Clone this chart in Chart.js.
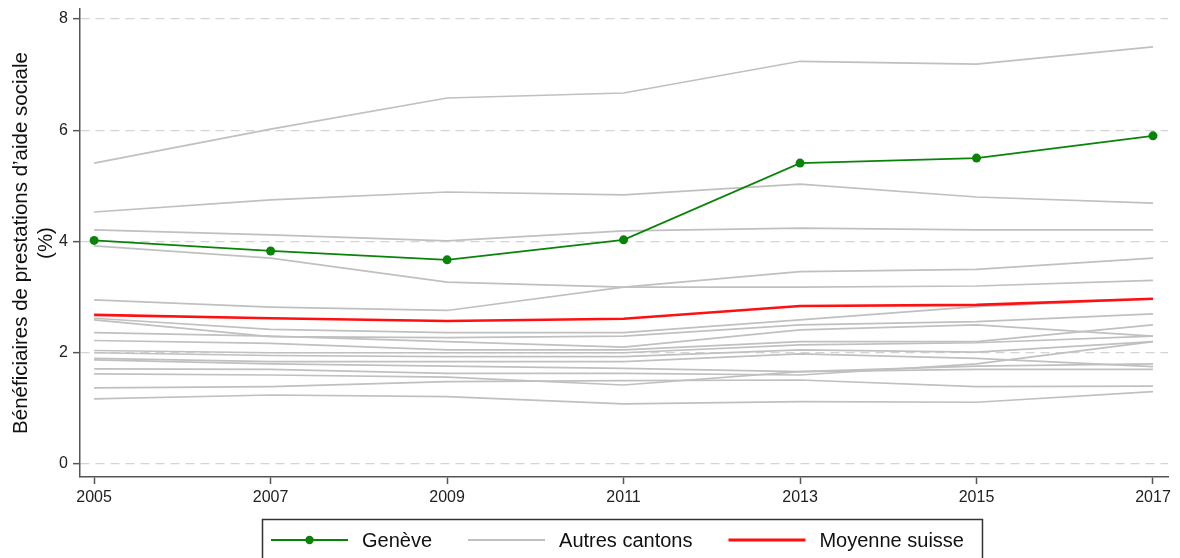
<!DOCTYPE html>
<html>
<head>
<meta charset="utf-8">
<script src="https://cdn.jsdelivr.net/npm/chart.js@4.4.1/dist/chart.umd.min.js"></script>
<style>
  html, body { margin: 0; background: #fff; }
  #wrap { width: 1180px; height: 558px; }
</style>
</head>
<body>
<div id="wrap"><canvas id="chartAide"></canvas></div>
<script>
const annees = [2005, 2007, 2009, 2011, 2013, 2015, 2017];
const yTicks = [0, 2, 4, 6, 8];

const geneve = [4.02, 3.83, 3.67, 4.03, 5.41, 5.50, 5.90];
const moyenneSuisse = [2.68, 2.62, 2.57, 2.61, 2.84, 2.86, 2.97];

// autres cantons, une ligne par canton
const autresCantons = [
    [5.41, 6.02, 6.58, 6.67, 7.24, 7.19, 7.50],
    [4.53, 4.75, 4.89, 4.84, 5.03, 4.80, 4.69],
    [4.21, 4.12, 4.01, 4.19, 4.24, 4.21, 4.21],
    [3.92, 3.70, 3.27, 3.18, 3.18, 3.20, 3.30],
    [2.95, 2.82, 2.76, 3.18, 3.46, 3.50, 3.70],
    [2.62, 2.42, 2.36, 2.36, 2.59, 2.83, 2.97],
    [2.59, 2.29, 2.27, 2.30, 2.50, 2.56, 2.70],
    [2.36, 2.30, 2.20, 2.10, 2.41, 2.50, 2.30],
    [2.22, 2.17, 2.05, 2.05, 2.20, 2.20, 2.50],
    [2.04, 2.00, 2.00, 2.00, 2.14, 2.18, 2.30],
    [2.00, 1.95, 1.93, 1.93, 2.05, 2.01, 2.20],
    [1.90, 1.84, 1.84, 1.84, 1.98, 1.90, 1.75],
    [1.87, 1.80, 1.76, 1.72, 1.66, 1.76, 1.80],
    [1.71, 1.70, 1.63, 1.63, 1.60, 1.80, 2.20],
    [1.62, 1.60, 1.56, 1.42, 1.66, 1.70, 1.70],
    [1.37, 1.39, 1.48, 1.50, 1.51, 1.39, 1.40],
    [1.17, 1.24, 1.21, 1.08, 1.12, 1.11, 1.30]
];

const legende = ['Genève', 'Autres cantons', 'Moyenne suisse'];
const couleurs = { geneve: '#098409', autres: '#c0c0c0', moyenne: '#ff1010' };

const points = vals => annees.map((a, i) => ({ x: a, y: vals[i] }));

const datasets = [{
    label: legende[0],
    data: points(geneve),
    borderColor: couleurs.geneve,
    backgroundColor: couleurs.geneve,
    borderWidth: 1.8,
    pointRadius: 4.5,
    pointBorderWidth: 0
}, {
    label: legende[2],
    data: points(moyenneSuisse),
    borderColor: couleurs.moyenne,
    borderWidth: 2.6,
    pointRadius: 0
}];
autresCantons.forEach(c => datasets.push({
    label: legende[1],
    data: points(c),
    borderColor: couleurs.autres,
    borderWidth: 1.7,
    pointRadius: 0
}));

// legende encadree sous le graphique
const legendeBas = {
    id: 'legendeBas',
    afterDraw(chart) {
        const ctx = chart.ctx;
        const area = chart.chartArea;
        const trait = 77, ecart = 14, entre = 36;
        ctx.save();
        ctx.font = '20px "Liberation Sans", Arial, sans-serif';
        const largeurs = legende.map(t => ctx.measureText(t).width);
        const contenu = largeurs.reduce((s, w) => s + w, 0) + 3 * (trait + ecart) + 2 * entre;
        const boite = contenu + 9 + 18;
        const gauche = Math.round((area.left + area.right) / 2 - boite / 2) - 2;
        const cy = 540;
        ctx.strokeStyle = '#333';
        ctx.lineWidth = 1.5;
        ctx.strokeRect(gauche + 0.5, 519.5, boite, 60);
        const styles = [
            { c: couleurs.geneve, w: 1.8, pt: true },
            { c: couleurs.autres, w: 1.8 },
            { c: couleurs.moyenne, w: 2.8 }
        ];
        let x = gauche + 9;
        legende.forEach((t, i) => {
            const s = styles[i];
            ctx.strokeStyle = s.c;
            ctx.lineWidth = s.w;
            ctx.beginPath();
            ctx.moveTo(x, cy);
            ctx.lineTo(x + trait, cy);
            ctx.stroke();
            if (s.pt) {
                ctx.fillStyle = s.c;
                ctx.beginPath();
                ctx.arc(x + trait / 2, cy, 4.2, 0, Math.PI * 2);
                ctx.fill();
            }
            x += trait + ecart;
            ctx.fillStyle = '#111';
            ctx.textBaseline = 'middle';
            ctx.fillText(t, x, cy + 1);
            x += largeurs[i] + entre;
        });
        ctx.restore();
    }
};

Chart.defaults.font.family = '"Liberation Sans", Arial, sans-serif';
Chart.defaults.color = '#222';

const ctx = document.getElementById('chartAide');

new Chart(ctx, {
    type: 'line',
    data: { datasets },
    plugins: [legendeBas],
    options: {
        responsive: true,
        maintainAspectRatio: false,
        animation: false,
        devicePixelRatio: 1,
        layout: { padding: { top: 0, right: 12, bottom: 43, left: 0 } },
        plugins: {
            legend: { display: false },
            tooltip: { enabled: false }
        },
        elements: { line: { tension: 0 } },
        scales: {
            x: {
                type: 'linear',
                min: 2004.84,
                max: 2017.17,
                afterBuildTicks: s => { s.ticks = annees.map(v => ({ value: v })); },
                afterFit: s => { s.height = 38; },
                ticks: {
                    font: { size: 16 },
                    color: '#222',
                    padding: 4,
                    maxRotation: 0,
                    callback: v => String(v)
                },
                grid: {
                    drawOnChartArea: false,
                    tickLength: 7,
                    tickColor: '#555',
                    tickWidth: 1.5
                },
                border: { color: '#555', width: 1.5 }
            },
            y: {
                min: -0.234,
                max: 8.18,
                afterBuildTicks: s => { s.ticks = yTicks.map(v => ({ value: v })); },
                afterFit: s => { s.width = 80; },
                ticks: { font: { size: 16, lineHeight: 0.5 }, color: '#222', padding: 5 },
                grid: {
                    color: '#d4d4d4',
                    lineWidth: 1.3,
                    tickLength: 7,
                    tickColor: '#555',
                    tickWidth: 1.5,
                    tickBorderDash: []
                },
                border: { color: '#555', width: 1.5, dash: [9, 6] },
                title: {
                    display: true,
                    text: ['Bénéficiaires de prestations d\u2019aide sociale', '(%)'],
                    font: { size: 20.5 },
                    color: '#111',
                    padding: { top: 9, bottom: 0 }
                }
            }
        }
    }
});
</script>
</body>
</html>
